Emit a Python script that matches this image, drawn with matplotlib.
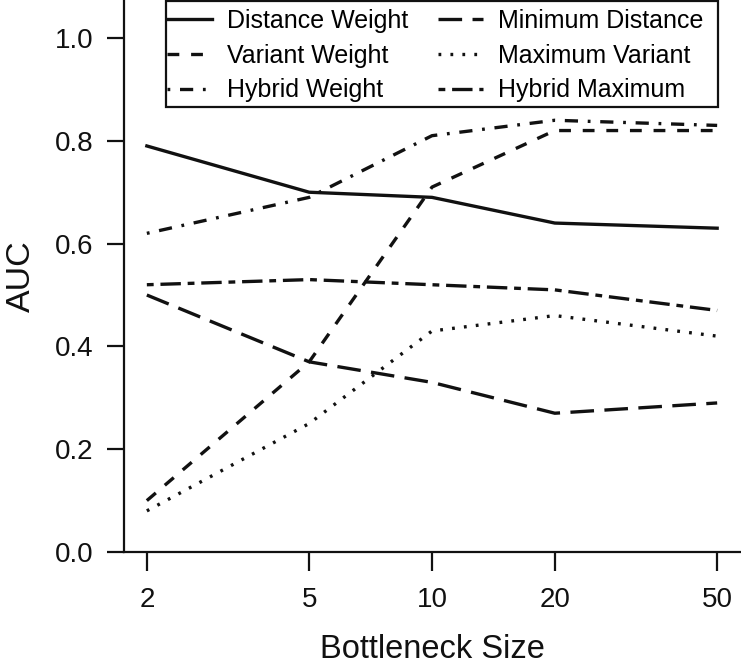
import matplotlib
matplotlib.use('Agg')
from matplotlib import pyplot as plt
from matplotlib.ticker import NullLocator
from matplotlib.patches import Rectangle

# bottleneck sizes (x) and AUC per method
sizes = [2, 5, 10, 20, 50]
distance_weight = [0.79, 0.70, 0.69, 0.64, 0.63]
variant_weight = [0.10, 0.37, 0.71, 0.82, 0.82]
hybrid_weight = [0.62, 0.69, 0.81, 0.84, 0.83]
minimum_distance = [0.50, 0.37, 0.33, 0.27, 0.29]
maximum_variant = [0.08, 0.25, 0.43, 0.46, 0.42]
hybrid_maximum = [0.52, 0.53, 0.52, 0.51, 0.47]
y_ticks = [0.0, 0.2, 0.4, 0.6, 0.8, 1.0]

plt.rcParams['font.family'] = ['Liberation Sans', 'DejaVu Sans']
plt.rcParams['lines.scale_dashes'] = False

W, H = 741, 665
fig = plt.figure(figsize=(W / 100, H / 100), dpi=100)
ax = fig.add_axes([124 / W, 1 - 552 / H, (740 - 124) / W, 552 / H])

# R style line types, in points
series = [
    ('Distance Weight', distance_weight, '-'),
    ('Variant Weight', variant_weight, (0, (8.5, 8.5))),
    ('Hybrid Weight', hybrid_weight, (0, (2.0, 7.0, 9.5, 7.0))),
    ('Minimum Distance', minimum_distance, (0, (17.0, 7.5))),
    ('Maximum Variant', maximum_variant, (0, (2.0, 6.6))),
    ('Hybrid Maximum', hybrid_maximum, (0, (4.9, 4.9, 14.7, 4.9))),
]
for label, vals, ls in series:
    ax.plot(sizes, vals, color='#111111', lw=2.4, linestyle=ls, label=label)

ax.set_xscale('log')
ax.set_xlim(1.758, 56.88)
ax.set_ylim(0, 1.074)
ax.set_xticks(sizes)
ax.set_xticklabels([str(s) for s in sizes])
ax.xaxis.set_minor_locator(NullLocator())
ax.set_yticks(y_ticks)
ax.set_yticklabels(['%.1f' % t for t in y_ticks])

for side in ['top', 'right']:
    ax.spines[side].set_visible(False)
for side in ['left', 'bottom']:
    ax.spines[side].set_linewidth(1.6)
    ax.spines[side].set_color('#111111')

ax.tick_params(axis='y', direction='out', length=12, width=1.6, pad=10,
               labelsize=20, color='#111111', labelcolor='#111111')
ax.tick_params(axis='x', direction='out', length=14, width=1.6, pad=11,
               labelsize=20, color='#111111', labelcolor='#111111')

ax.set_xlabel('Bottleneck Size', fontsize=23.5, labelpad=15, color='#111111')
ax.set_ylabel('AUC', fontsize=24.5, labelpad=13, color='#111111')

# legend without its own frame, box drawn separately (R legend layout)
leg = ax.legend(ncol=2, loc='upper left', bbox_to_anchor=(167 / W, 1 - 9 / H),
                bbox_transform=fig.transFigure, fontsize=18, frameon=False,
                borderpad=0, borderaxespad=0,
                handlelength=1.8, handletextpad=0.6, columnspacing=1.2,
                labelspacing=0.43)
fig.add_artist(Rectangle((166 / W, 1 - 107 / H), (718 - 166) / W, 106 / H,
                         transform=fig.transFigure, fill=False,
                         edgecolor='#111111', linewidth=1.6, zorder=5))

fig.savefig('out.png', dpi=100)
